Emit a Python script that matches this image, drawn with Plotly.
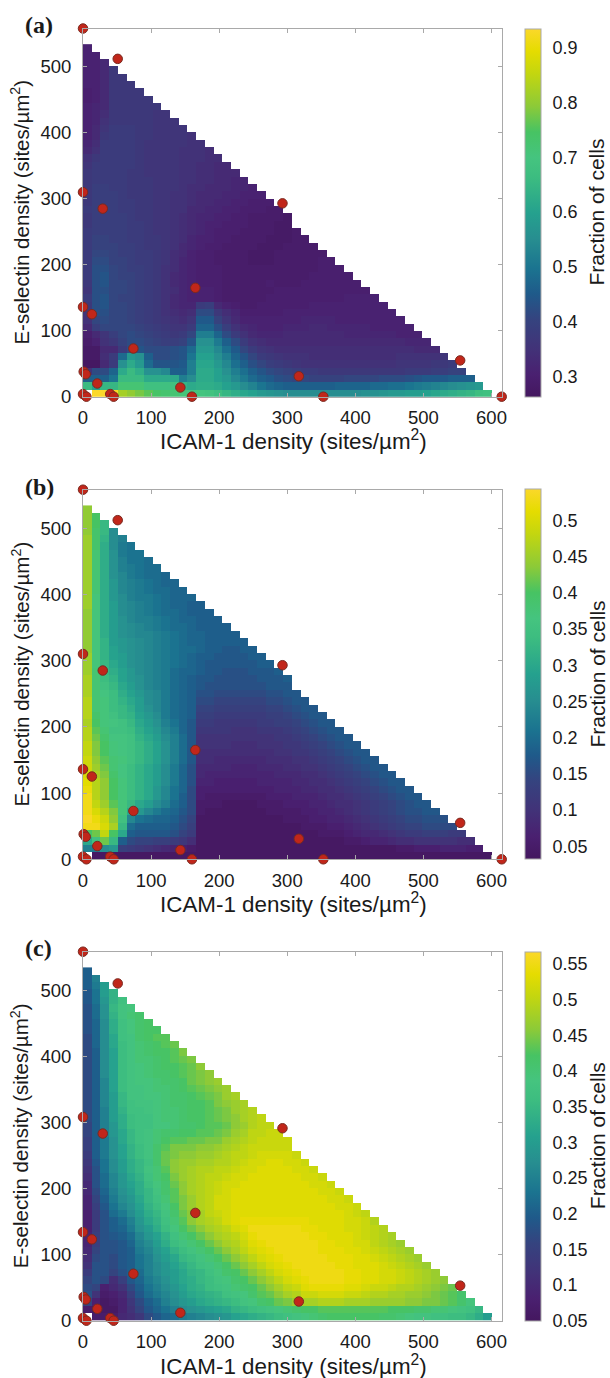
import plotly.graph_objects as go

x_ticks = [0, 100, 200, 300, 400, 500, 600]
y_ticks = [0, 100, 200, 300, 400, 500]
x_pts = [0, 51, 0, 29, 293, 165, 0, 13, 74, 1, 4, 21, 143, 317, 554, 0, 5, 40, 45, 160, 353, 615]
y_pts = [558, 512, 310, 285, 293, 165, 136, 125, 73, 38, 34, 20, 14, 31, 55, 4, 0, 4, 0, 0, 0, 0]
y_pts_c = [558, 510, 308, 283, 291, 163, 134, 123, 71, 36, 32, 18, 12, 29, 53, 4, 0, 4, 0, -1, -1, -1]

# percent of cells, rows listed top to bottom
Za = [
[31],
[31,31],
[31,31,33],
[31,31,33,37],
[31,31,33,37,37],
[31,31,33,37,37,37],
[31,31,33,37,37,37,37],
[30,31,33,37,37,37,37,37],
[30,31,33,37,37,37,37,37,37],
[31,32,33,37,37,37,37,37,37,36],
[31,32,34,37,37,37,37,37,36,36,36],
[31,32,35,37,37,37,37,37,36,36,36,36],
[31,33,36,38,38,38,37,37,36,36,36,36,35],
[31,33,37,38,38,38,37,37,36,36,36,36,35,35],
[32,34,38,38,38,38,37,36,36,36,36,36,35,35,35],
[33,35,38,38,38,38,37,36,36,36,36,35,35,35,34,34],
[35,37,38,38,38,38,37,36,36,36,36,35,35,35,34,34,34],
[36,38,38,38,38,38,37,36,36,36,36,35,35,34,34,33,33,33],
[37,38,38,38,38,37,37,36,36,36,36,35,35,34,34,33,33,33,32],
[37,38,38,38,38,37,37,37,36,36,36,35,35,34,34,33,33,32,32,32],
[37,39,39,38,38,37,37,37,36,36,36,35,34,34,33,33,33,32,32,31,31],
[37,39,39,39,38,37,37,37,36,36,35,35,34,33,33,33,32,32,31,31,31,30],
[37,39,39,39,38,38,37,37,36,36,35,35,34,33,33,32,32,31,31,30,30,30,29],
[38,39,39,39,38,38,37,37,36,36,35,35,33,33,32,32,31,31,30,30,30,29,29,29],
[37,39,39,39,39,38,37,37,36,36,35,34,33,32,32,31,31,30,30,29,29,29,29,28],
[37,39,39,39,39,38,38,37,36,36,35,34,33,32,31,31,30,30,30,29,29,29,28,28],
[38,39,39,39,39,38,38,37,36,36,35,34,33,32,31,30,30,30,29,29,29,29,28,28,29],
[38,40,40,39,39,38,38,37,37,36,35,34,32,31,31,30,30,29,29,29,29,28,28,28,29,29],
[38,40,40,40,39,39,38,37,37,36,35,33,32,31,30,30,29,29,29,29,28,28,28,29,29,29,29],
[38,41,41,40,39,39,38,38,37,36,34,33,31,30,30,29,29,29,29,28,28,28,29,29,29,29,29,29],
[38,42,42,40,40,39,38,38,37,36,34,32,31,30,30,29,29,29,29,28,28,28,29,29,29,29,29,30,30],
[38,43,43,41,40,39,39,38,37,35,34,32,31,30,30,30,29,29,29,29,29,29,29,29,29,29,29,30,30,30],
[38,43,44,41,40,40,39,38,37,35,33,32,31,30,30,30,29,29,29,29,29,29,29,29,29,29,30,30,30,30,30],
[37,43,44,41,41,40,39,38,37,35,33,32,31,30,30,30,29,29,29,29,29,30,29,29,29,30,30,30,30,30,30,30],
[36,43,43,41,41,40,39,38,37,35,34,32,31,31,31,30,29,29,29,29,29,29,30,30,30,30,30,30,30,30,30,30,30],
[38,43,44,41,40,40,39,38,37,35,33,32,31,31,31,30,29,29,29,29,29,30,30,30,30,30,30,30,30,30,31,31,31,31],
[37,43,44,41,41,40,39,38,37,35,33,32,32,38,39,33,31,30,29,29,30,30,30,30,30,30,31,31,31,31,31,31,31,31,31],
[36,43,43,41,41,40,39,38,37,35,34,33,34,42,42,37,34,32,30,30,30,30,30,31,31,31,31,31,31,31,31,31,31,31,31,31],
[35,41,42,41,41,40,39,38,37,36,35,34,36,45,45,40,36,33,31,31,31,31,31,31,31,32,32,32,32,31,31,31,31,31,31,31,31],
[33,39,41,41,41,41,40,39,38,37,36,36,38,47,47,43,39,35,33,32,31,31,31,32,32,32,33,33,32,32,32,32,32,31,31,31,31,31],
[30,33,36,39,41,42,41,40,39,38,37,38,41,52,52,47,42,38,35,33,32,32,32,33,33,33,33,33,33,33,32,32,32,32,32,32,31,31,31],
[29,31,35,37,40,42,42,41,40,39,39,40,44,56,56,51,46,42,38,35,34,33,33,33,33,33,33,33,33,33,33,33,33,33,33,33,33,32,32,32],
[28,28,33,33,38,42,44,42,42,42,43,44,48,58,58,54,49,45,41,38,36,35,34,34,34,34,34,34,34,34,34,34,34,34,34,34,34,34,33,33,33],
[28,28,34,38,48,58,56,46,42,42,43,44,50,60,60,56,52,47,44,41,38,37,36,35,35,35,34,34,34,34,34,34,34,34,34,34,35,35,35,35,35,36],
[27,27,33,38,56,62,58,48,44,44,44,45,52,61,61,58,54,49,46,43,41,39,38,37,36,35,35,35,35,35,35,35,35,35,35,35,36,36,36,36,37,37,38],
[35,42,42,47,62,66,63,56,56,54,46,46,52,62,62,60,56,52,49,46,44,42,41,40,39,38,38,37,37,37,37,37,37,37,37,37,37,38,38,38,39,39,40,40],
[46,46,46,50,66,66,66,62,62,62,62,52,55,62,62,60,58,54,51,48,46,45,43,42,41,41,40,40,40,40,41,41,41,41,42,42,42,43,44,45,45,45,46,46,46],
[66,60,65,65,72,72,72,68,68,68,68,64,62,63,63,62,60,58,55,53,50,48,47,46,46,46,46,46,46,47,47,47,47,48,48,49,49,50,51,52,53,54,55,56,57,58],
[None,94,94,93,82,80,78,76,74,73,72,71,70,70,69,67,65,63,61,60,58,57,56,55,55,55,55,55,55,55,55,55,56,56,57,58,58,59,59,60,61,62,63,64,65,67,68],
]

Zb = [
[44],
[44,40],
[44,40,33],
[44,39,33,25],
[45,39,32,25,23],
[45,39,31,25,22,21],
[45,38,31,26,22,21,21],
[45,38,31,26,23,21,21,20],
[45,38,31,26,23,22,21,20,20],
[45,38,31,26,24,22,21,20,20,19],
[45,38,31,27,24,23,22,21,20,19,19],
[45,38,31,27,24,23,22,21,20,20,19,19],
[45,37,31,27,25,23,22,22,21,20,19,19,19],
[45,37,31,28,25,24,23,22,21,20,19,19,18,18],
[44,37,31,28,25,24,23,22,21,20,20,19,18,18,18],
[44,37,31,28,26,24,23,23,22,21,20,19,19,18,18,18],
[44,37,31,28,26,25,24,23,22,21,20,20,19,18,18,18,18],
[44,37,31,28,26,25,24,24,23,22,21,20,19,19,18,18,18,18],
[44,37,32,28,27,26,25,24,23,22,21,20,19,19,18,18,18,18,18],
[44,37,32,29,27,26,25,24,23,22,21,20,20,19,18,18,17,17,18,18],
[45,37,32,29,28,26,25,24,23,22,21,20,19,18,18,17,17,17,17,18,18],
[45,37,33,30,28,26,25,24,23,22,21,20,19,18,17,17,17,17,17,17,18,18],
[45,38,33,31,29,27,25,24,23,22,20,19,19,18,17,17,16,16,16,17,17,17,18],
[46,38,34,32,29,27,26,24,23,22,20,19,18,17,17,16,16,16,16,16,17,17,17,18],
[46,38,35,33,30,28,26,24,23,22,20,19,18,17,16,16,16,16,16,16,16,17,17,17],
[46,38,36,34,31,29,27,25,24,22,20,19,18,16,16,15,15,15,15,15,15,16,16,17,17],
[47,38,37,34,32,30,28,25,24,22,20,19,18,15,15,14,14,14,14,14,14,15,15,16,17,17],
[47,38,37,34,33,31,28,26,24,22,20,19,18,14,14,13,13,13,13,13,13,14,14,15,16,17,17],
[47,39,37,35,33,32,29,27,25,22,20,19,18,13,13,12,12,12,12,12,12,13,13,14,15,16,17,17],
[46,40,37,36,35,33,30,28,26,23,21,19,17,12,12,11,11,11,11,11,12,12,13,13,14,15,16,17,17],
[47,41,38,35,35,34,31,29,27,24,22,19,17,11,11,11,11,10,10,10,11,11,11,12,13,14,15,16,17,17],
[47,42,39,36,36,35,32,30,28,25,23,20,17,10,10,10,10,10,10,10,10,10,11,11,12,13,14,15,16,17,17],
[48,43,40,37,36,35,33,31,29,26,23,20,17,10,10,10,10,9,9,9,10,10,10,11,11,12,13,14,15,16,17,17],
[48,43,40,37,36,35,33,31,29,26,23,20,17,9,9,9,9,9,9,9,9,9,10,10,11,11,12,13,14,15,16,17,17],
[49,44,41,38,37,35,33,31,29,26,23,20,17,9,9,8,8,8,8,8,8,9,9,9,10,10,11,12,13,14,15,16,17,17],
[49,45,42,38,36,34,32,30,28,25,22,19,16,8,8,8,8,7,7,7,8,8,8,9,9,10,10,11,12,13,14,15,16,17,17],
[50,46,43,39,36,34,32,30,28,25,22,19,16,8,7,7,7,7,7,7,7,7,8,8,8,9,9,10,11,12,13,14,15,16,17,17],
[51,47,44,40,37,34,32,30,28,25,22,19,16,7,7,6,6,6,6,6,7,7,7,7,8,8,9,9,10,11,12,13,14,15,16,17,17],
[52,47,44,40,37,34,32,30,27,24,21,19,15,6,6,6,6,6,6,6,6,6,7,7,7,8,8,9,9,10,11,12,13,14,15,16,17,17],
[53,47,44,40,37,34,32,30,27,24,21,18,15,6,5,5,5,5,5,5,5,6,6,6,7,7,7,8,9,9,10,11,12,13,14,15,16,17,17],
[53,48,45,41,37,33,30,28,25,23,20,18,15,5,5,5,4,4,4,4,5,5,5,6,6,6,7,7,8,9,9,10,11,12,13,14,15,16,17,17],
[53,50,47,43,37,30,27,24,22,20,19,17,15,5,4,4,4,4,4,4,4,5,5,5,5,6,6,7,7,8,9,10,11,12,13,14,15,16,16,17,17],
[54,52,49,44,35,24,21,20,19,19,18,16,14,4,4,4,4,4,4,4,4,4,4,5,5,5,6,6,7,7,8,9,10,11,12,13,14,15,15,16,16,16],
[53,53,50,46,33,20,18,18,18,18,17,15,13,4,4,4,4,4,4,4,4,4,4,4,4,5,5,5,6,6,7,8,9,10,11,12,13,14,14,15,15,15,15],
[40,42,48,40,30,18,17,17,17,17,16,14,12,4,4,4,4,4,4,4,4,4,4,4,4,4,4,5,5,5,6,7,8,8,9,10,11,12,12,13,13,13,12,12],
[30,35,42,33,18,15,14,14,13,13,12,11,9,4,4,4,4,4,4,4,4,4,4,4,4,4,4,4,4,4,5,5,6,7,7,8,9,9,10,10,10,10,10,9,9],
[23,22,25,27,13,12,11,10,9,8,7,6,5,4,4,4,4,4,4,4,4,4,4,4,4,4,4,4,4,4,4,4,4,4,4,4,5,5,6,6,6,7,7,7,6,6],
[None,4,4,4,4,4,4,4,4,4,4,4,4,4,4,4,4,4,4,4,4,4,4,4,4,4,4,4,4,4,4,4,4,4,4,4,4,4,4,4,4,4,4,4,4,4,4],
]

Zc = [
[20],
[20,25],
[20,24,30],
[19,23,30,34],
[19,23,29,34,37],
[18,22,28,35,38,39],
[18,22,28,34,38,40,41],
[18,21,27,33,37,39,41,42],
[18,21,27,33,37,39,41,42,42],
[17,21,27,32,37,38,41,42,43,43],
[17,21,27,32,36,38,40,41,42,43,44],
[17,20,27,31,36,38,40,41,42,42,43,45],
[17,20,27,31,36,38,40,40,41,42,43,44,45],
[17,20,27,31,36,38,39,40,41,42,42,43,44,46],
[17,20,27,31,36,38,39,40,41,41,42,43,44,45,46],
[17,20,26,31,36,38,39,39,40,41,41,42,44,45,46,47],
[17,20,26,31,36,38,38,39,40,40,41,42,43,44,45,46,47],
[17,20,26,30,35,38,38,39,39,40,41,41,42,43,44,45,47,48],
[17,20,26,30,35,37,38,38,39,40,41,41,42,42,43,45,46,47,48],
[17,20,25,30,34,37,37,38,39,40,40,41,42,42,43,44,45,47,48,49],
[17,20,25,30,33,36,37,37,39,40,40,41,42,42,43,44,45,46,48,49,50],
[16,20,25,29,33,36,37,37,39,39,40,41,41,42,43,43,44,46,47,49,50,50],
[16,20,25,29,32,35,37,38,40,41,41,42,42,43,43,44,45,47,48,50,50,51,51],
[15,20,24,28,32,35,37,38,40,42,43,43,44,44,45,45,47,48,49,50,51,51,51,51],
[15,20,24,28,31,34,36,38,41,43,45,45,45,46,46,47,48,49,50,51,51,51,51,51],
[14,20,24,28,31,34,36,38,41,44,45,46,46,47,47,48,49,50,50,51,52,52,52,52,51],
[13,19,23,27,30,33,35,37,41,44,46,47,47,48,48,49,49,50,51,52,52,53,53,52,52,51],
[12,18,23,27,30,33,35,38,40,43,46,47,48,49,49,50,50,51,52,52,53,53,53,53,52,52,51],
[11,18,22,26,29,32,34,37,40,42,45,47,48,49,50,50,51,52,52,53,53,53,53,53,53,52,52,51],
[10,18,22,26,29,31,33,36,39,41,44,46,48,49,50,51,52,52,53,53,53,53,53,53,53,53,52,52,51],
[10,17,21,25,28,30,33,35,38,41,43,46,48,49,50,51,52,53,53,53,53,53,53,53,53,53,53,52,52,51],
[9,16,20,24,27,29,32,35,37,40,43,45,47,49,50,52,52,53,53,53,53,53,53,53,53,53,53,53,52,52,51],
[9,15,19,23,26,28,31,34,36,39,42,45,47,49,50,52,52,53,53,53,53,53,53,53,53,53,53,53,53,52,52,51],
[8,14,18,22,24,27,30,33,35,38,41,44,46,48,50,51,52,53,53,53,53,53,53,53,53,53,53,53,53,53,52,51,50],
[8,14,18,20,22,25,29,32,34,37,40,43,46,48,49,50,52,53,54,54,54,54,54,54,54,54,53,53,53,53,52,52,51,49],
[8,14,18,20,21,24,28,30,33,36,39,42,44,46,48,49,50,52,53,55,55,55,55,55,55,54,54,53,53,53,52,52,51,50,49],
[9,15,18,19,20,22,26,29,31,34,37,40,42,44,46,48,49,50,52,54,55,55,55,55,55,55,54,54,53,53,53,52,51,50,49,48],
[9,15,18,18,19,21,25,27,30,33,36,38,40,42,44,46,48,49,51,53,54,55,55,55,55,55,55,54,54,53,53,52,52,50,49,48,47],
[10,16,18,18,19,20,24,26,29,31,34,36,38,40,42,44,46,48,50,52,53,54,55,55,55,55,55,54,54,54,53,53,52,51,50,49,48,47],
[11,17,18,17,19,20,23,25,28,30,32,35,36,38,40,42,44,46,48,50,52,53,54,55,55,55,55,55,54,54,54,53,53,52,51,50,49,48,47],
[12,18,18,17,19,20,23,25,27,29,31,33,35,37,38,40,42,44,46,48,50,52,53,54,55,55,55,55,55,54,54,53,53,53,52,51,50,49,48,47],
[14,18,18,16,18,20,22,25,27,29,30,32,34,35,37,39,41,42,44,46,48,50,52,53,54,55,55,55,55,55,54,54,53,53,52,52,51,50,49,48,47],
[16,18,17,11,15,19,21,24,26,28,30,32,33,35,36,38,39,41,42,44,46,48,50,52,53,54,55,55,55,55,54,54,53,53,52,52,51,50,49,48,47,46],
[17,16,8,10,12,17,20,23,25,27,29,31,33,34,36,37,38,40,41,42,44,46,48,50,51,53,54,54,54,54,53,53,52,51,51,50,49,49,48,47,46,45,44],
[18,12,7,8,10,15,19,22,24,26,28,30,32,33,34,35,37,38,39,41,43,44,46,48,49,51,51,52,52,52,51,51,50,49,49,48,48,47,47,46,45,44,43,41],
[16,8,6,7,9,13,17,20,22,25,27,29,30,32,33,34,35,36,38,39,41,42,44,45,47,48,48,49,49,49,48,48,48,47,47,47,47,46,46,45,45,44,43,41,39],
[7,6,6,6,9,12,16,19,21,23,25,27,28,29,30,31,32,34,35,36,37,38,39,40,41,42,42,43,43,43,43,43,43,43,43,42,42,42,41,41,40,40,39,38,37,35],
[None,7,7,7,10,11,13,17,19,21,22,24,25,26,27,28,29,31,32,33,34,35,36,37,38,39,40,41,42,42,42,42,42,42,41,41,40,39,38,38,37,37,36,36,35,33,30],
]

# ---------- styling ----------
COL_W, ROW_H = 12.79, 11.13
X_MAX, Y_MAX = 615, 558
FONT = "Liberation Sans, Arial, sans-serif"
INK = "#1a1a1a"
GREY = "#a9a9a9"
anchors = [(0,"#44175f"),(.06,"#4a2070"),(.13,"#423278"),(.21,"#35437f"),(.28,"#1f5a8a"),
           (.35,"#1b7490"),(.43,"#278e90"),(.5,"#25a18e"),(.6,"#3dbd80"),(.65,"#45c47f"),
           (.72,"#47c363"),(.79,"#8cca38"),(.88,"#c4d60f"),(.94,"#e5dc00"),(1,"#fbd82a")]
cscale = [[t, c] for t, c in anchors]

W, H = 610, 1378
panels = [
    dict(z=Za, lo=26.4, hi=93.4, top=28.5, bot=396.7, label="(a)", ly=25, ys=y_pts, xt=440,
         cb=[.3,.4,.5,.6,.7,.8,.9], cbt=["0.3","0.4","0.5","0.6","0.7","0.8","0.9"]),
    dict(z=Zb, lo=3.2, hi=54.3, top=489.7, bot=859.3, label="(b)", ly=487, ys=y_pts, xt=903,
         cb=[.05,.1,.15,.2,.25,.3,.35,.4,.45,.5], cbt=["0.05","0.1","0.15","0.2","0.25","0.3","0.35","0.4","0.45","0.5"]),
    dict(z=Zc, lo=5, hi=56.7, top=951.7, bot=1320.7, label="(c)", ly=948, ys=y_pts_c, xt=1365,
         cb=[.05,.1,.15,.2,.25,.3,.35,.4,.45,.5,.55], cbt=["0.05","0.1","0.15","0.2","0.25","0.3","0.35","0.4","0.45","0.5","0.55"]),
]

def row_len(r):
    return 47 - r if r <= 23 else 48 - r

def note(fig, text, px, py, size, angle=0, family=FONT, anchor="center"):
    fig.add_annotation(text=text, xref="paper", yref="paper", x=px / W, y=1 - py / H,
                       xanchor=anchor, yanchor="middle", showarrow=False, textangle=angle,
                       font=dict(family=family, size=size, color=INK))

fig = go.Figure()
L, R = 83, 501.7
for i, p in enumerate(panels):
    n = "" if i == 0 else str(i + 1)
    rows = list(reversed(p["z"]))
    grid = []
    for r in range(48):
        k = row_len(r)
        row = (rows[r] + [rows[r][-1]] * k)[:k]
        grid.append([None if v is None else v / 100 for v in row] + [None] * (47 - k))
    dom_y = [1 - p["bot"] / H, 1 - p["top"] / H]
    fig.add_trace(go.Heatmap(
        z=grid, x0=COL_W / 2, dx=COL_W, y0=ROW_H / 2, dy=ROW_H,
        xaxis="x" + n, yaxis="y" + n, colorscale=cscale,
        zmin=p["lo"] / 100, zmax=p["hi"] / 100, hoverongaps=False,
        colorbar=dict(x=525.3 / W, xanchor="left", thickness=16.4, thicknessmode="pixels",
                      y=dom_y[0], yanchor="bottom", len=dom_y[1] - dom_y[0], lenmode="fraction",
                      outlinecolor=GREY, outlinewidth=1, ticks="outside", ticklen=8,
                      tickcolor="rgba(0,0,0,0)", tickvals=p["cb"], ticktext=p["cbt"], xpad=0, ypad=0,
                      tickfont=dict(family=FONT, size=18, color=INK))))
    fig.add_trace(go.Scatter(
        x=x_pts, y=p["ys"], mode="markers", xaxis="x" + n, yaxis="y" + n,
        cliponaxis=False, showlegend=False,
        marker=dict(size=9.5, color="#c1261a", line=dict(color="#7a2a20", width=1))))
    common = dict(ticks="inside", ticklen=4, tickcolor=GREY, showline=True, linecolor=GREY,
                  linewidth=1, mirror="ticks", showgrid=False, zeroline=False, automargin=False,
                  tickfont=dict(family=FONT, size=18.5, color=INK))
    ax = dict(range=[0, X_MAX], domain=[L / W, R / W], tickvals=x_ticks, anchor="y" + n,
              ticklabelstandoff=4, **common)
    ay = dict(range=[0, Y_MAX], domain=dom_y, tickvals=y_ticks, anchor="x" + n,
              ticklabelstandoff=7, **common)
    fig.update_layout({"xaxis" + n: ax, "yaxis" + n: ay})
    note(fig, "<b>%s</b>" % p["label"], 23, p["ly"], 24, family="Liberation Serif, Times New Roman, serif", anchor="left")
    note(fig, "ICAM-1 density (sites/µm<sup>2</sup>)", 293, p["xt"], 22.4)
    note(fig, "E-selectin density (sites/µm<sup>2</sup>)", 20, (p["top"] + p["bot"]) / 2, 20.5, angle=-90)
    note(fig, "Fraction of cells", 597, (p["top"] + p["bot"]) / 2, 21, angle=-90)

fig.update_layout(width=W, height=H, margin=dict(l=0, r=0, t=0, b=0, autoexpand=False), showlegend=False,
                  paper_bgcolor="white", plot_bgcolor="white")
fig.write_html("out.html", config=dict(displayModeBar=False),
               post_script="document.body.style.margin='0';")
